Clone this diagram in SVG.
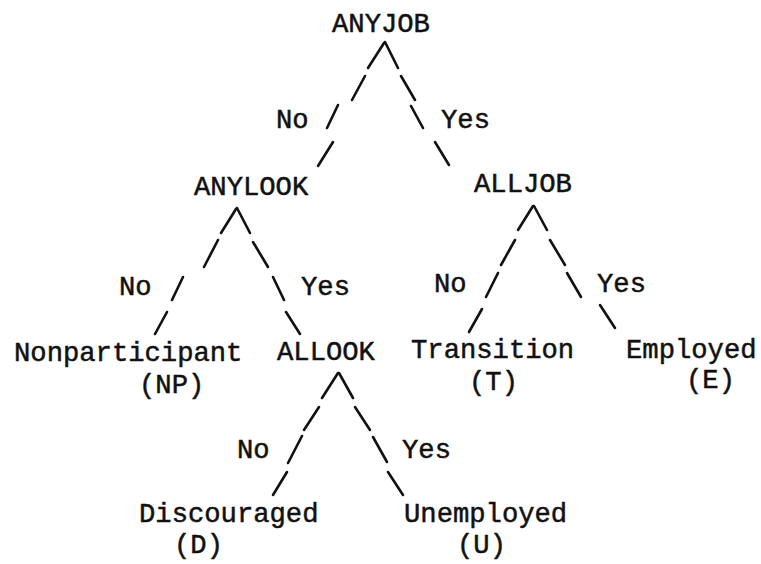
<svg xmlns="http://www.w3.org/2000/svg" width="761" height="564" viewBox="0 0 761 564">
<style>
text{font-family:"Liberation Mono","Courier New",monospace;font-size:27.2px;fill:#111;stroke:#111;stroke-width:0.5}
.c line{stroke:#111;stroke-width:2.6;stroke-linecap:round}
</style>
<rect width="761" height="564" fill="#fff"/>
<g class="c" id="connectors">
<line x1="384" y1="43" x2="368" y2="68"/><line x1="365" y1="76" x2="352" y2="100"/><line x1="338" y1="105" x2="327" y2="128"/><line x1="333" y1="142" x2="318" y2="166"/>
<line x1="385" y1="42" x2="398" y2="68"/><line x1="401" y1="76" x2="415" y2="100"/><line x1="411" y1="106" x2="423" y2="128"/><line x1="435" y1="142" x2="449" y2="165"/>
<line x1="236" y1="209" x2="221" y2="233"/><line x1="218" y1="240" x2="204" y2="267"/><line x1="183" y1="277" x2="172" y2="300"/><line x1="167" y1="312" x2="155" y2="334"/>
<line x1="237" y1="208" x2="250" y2="233"/><line x1="253" y1="242" x2="268" y2="267"/><line x1="273" y1="277" x2="284" y2="300"/><line x1="286" y1="312" x2="300" y2="334"/>
<line x1="533" y1="206" x2="518" y2="230"/><line x1="515" y1="240" x2="501" y2="265"/><line x1="498" y1="273" x2="486" y2="297"/><line x1="482" y1="309" x2="469" y2="332"/>
<line x1="534" y1="206" x2="547" y2="230"/><line x1="550" y1="240" x2="565" y2="265"/><line x1="567" y1="273" x2="581" y2="297"/><line x1="600" y1="305" x2="615" y2="328"/>
<line x1="338" y1="373" x2="322" y2="398"/><line x1="319" y1="407" x2="304" y2="430"/><line x1="302" y1="436" x2="288" y2="463"/><line x1="287" y1="472" x2="273" y2="495"/>
<line x1="339" y1="373" x2="353" y2="398"/><line x1="355" y1="407" x2="370" y2="430"/><line x1="373" y1="437" x2="387" y2="462"/><line x1="388" y1="472" x2="403" y2="495"/>
<g id="edge-labels">
<text x="276" y="128">No</text><text x="441" y="128">Yes</text>
<text x="119" y="295">No</text><text x="301" y="295">Yes</text>
<text x="434" y="292">No</text><text x="597" y="292">Yes</text>
<text x="237" y="458">No</text><text x="402" y="458">Yes</text>
</g>
</g>
<g id="anyjob"><text x="332" y="32">ANYJOB</text></g>
<g id="anylook"><text x="194" y="195">ANYLOOK</text></g>
<g id="alljob"><text x="474" y="192">ALLJOB</text></g>
<g id="nonparticipant"><text x="14" y="361">Nonparticipant</text><text x="139" y="393">(NP)</text></g>
<g id="allook"><text x="277" y="360">ALLOOK</text></g>
<g id="transition"><text x="411" y="358">Transition</text><text x="469" y="390">(T)</text></g>
<g id="employed"><text x="626" y="358">Employed</text><text x="686" y="388">(E)</text></g>
<g id="discouraged"><text x="139" y="522">Discouraged</text><text x="174" y="553">(D)</text></g>
<g id="unemployed"><text x="404" y="522">Unemployed</text><text x="457" y="553">(U)</text></g>
</svg>
